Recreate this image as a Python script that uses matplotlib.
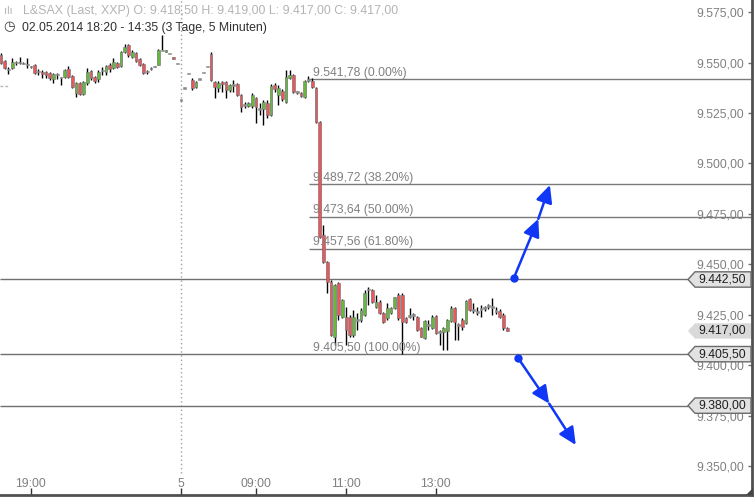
import matplotlib

matplotlib.use("Agg")
import matplotlib.pyplot as plt  # noqa: E402
import matplotlib.transforms as mtransforms  # noqa: E402
from matplotlib.patches import Polygon  # noqa: E402

plt.rcParams["font.family"] = ["Liberation Sans", "DejaVu Sans"]

# --- Daten: 5-Minuten-Kerzen, Index 0 = 02.05.2014 18:20 ---
opens = [
    9553.5, 9551.0, 9546.5, 9547.5, 9550.0, 9550.0, 9549.5, 9549.0, 9548.0, 9549.0,
    9545.5, 9545.5, 9545.5, 9545.0, 9542.0, 9544.0, 9542.5, 9543.0, 9547.0, 9543.5,
    9535.0, 9540.0, 9534.5, 9540.0, 9546.0, 9543.0, 9542.0, 9546.0, 9545.5, 9549.0,
    9547.5, 9550.0, 9548.5, 9555.0, 9558.5, 9553.0, 9554.5, 9552.0, 9549.5, 9545.5,
    9547.0, 9548.0, 9549.0, 9556.0, 9555.0, 9554.5, 9553.0, 9549.5, 9531.5, 9537.5,
    9544.5, 9541.5, 9538.0, 9542.0, 9545.0, 9548.0, 9554.0, 9540.5, 9537.5, 9540.0,
    9540.5, 9536.5, 9539.0, 9539.5, 9534.0, 9529.0, 9528.5, 9528.5, 9532.5, 9527.0,
    9527.0, 9530.0, 9524.0, 9539.0, 9534.0, 9536.0, 9530.5, 9542.5, 9544.0, 9535.5,
    9535.0, 9533.0, 9541.5, 9541.0, 9537.5, 9520.5, 9464.5, 9451.0, 9441.5, 9414.0,
    9441.0, 9424.0, 9424.0, 9424.0, 9415.0, 9422.5, 9422.5, 9425.0, 9437.5, 9437.5,
    9429.0, 9431.5, 9426.0, 9423.5, 9426.0, 9428.5, 9435.0, 9435.0, 9423.5, 9424.5,
    9425.0, 9424.0, 9418.5, 9413.5, 9420.0, 9418.5, 9424.5, 9416.5, 9416.5, 9417.0,
    9422.0, 9428.5, 9420.0, 9422.5, 9421.0, 9433.0, 9427.5, 9426.5, 9428.0, 9428.5,
    9429.5, 9429.0, 9427.0, 9427.0, 9425.0, 9418.5,
]
highs = [
    9554.5, 9551.5, 9548.0, 9552.5, 9551.0, 9553.0, 9550.5, 9552.5, 9548.5, 9549.5,
    9547.0, 9546.5, 9546.0, 9545.5, 9545.0, 9545.0, 9543.0, 9547.0, 9548.5, 9544.0,
    9540.5, 9540.5, 9541.0, 9547.5, 9546.5, 9543.5, 9546.5, 9548.0, 9549.0, 9550.0,
    9552.5, 9550.5, 9555.5, 9559.0, 9559.0, 9556.0, 9555.0, 9552.5, 9550.0, 9546.5,
    9548.0, 9548.5, 9556.5, 9563.5, 9556.0, 9554.5, 9553.0, 9549.5, 9531.5, 9537.5,
    9544.5, 9542.5, 9541.0, 9542.0, 9545.0, 9548.0, 9555.0, 9541.0, 9541.0, 9541.0,
    9541.0, 9539.5, 9541.5, 9540.0, 9534.5, 9530.5, 9530.5, 9535.0, 9533.0, 9530.0,
    9531.5, 9531.5, 9539.5, 9540.0, 9539.0, 9537.0, 9546.5, 9546.5, 9544.5, 9536.0,
    9535.5, 9541.5, 9543.5, 9542.5, 9538.0, 9521.0, 9469.5, 9451.5, 9442.0, 9440.5,
    9441.5, 9433.0, 9429.0, 9425.0, 9427.5, 9426.0, 9428.5, 9437.5, 9439.0, 9438.0,
    9435.0, 9432.5, 9426.5, 9431.0, 9429.0, 9434.0, 9436.0, 9436.0, 9424.0, 9428.5,
    9426.0, 9424.5, 9419.0, 9422.5, 9422.5, 9425.0, 9425.0, 9417.5, 9419.0, 9423.0,
    9429.5, 9429.0, 9421.0, 9423.5, 9432.5, 9433.5, 9431.0, 9429.0, 9430.0, 9429.5,
    9430.5, 9433.5, 9429.0, 9428.0, 9426.0, 9419.0,
]
lows = [
    9549.5, 9547.0, 9544.5, 9547.0, 9549.0, 9549.5, 9549.5, 9547.5, 9547.5, 9544.5,
    9544.0, 9542.5, 9542.5, 9541.5, 9540.0, 9542.0, 9539.0, 9542.5, 9542.5, 9537.5,
    9533.0, 9534.0, 9534.0, 9539.0, 9541.5, 9540.0, 9540.5, 9544.0, 9544.0, 9545.5,
    9547.0, 9547.5, 9548.0, 9554.5, 9553.0, 9552.5, 9550.5, 9548.5, 9544.5, 9544.5,
    9546.5, 9548.0, 9549.0, 9556.0, 9555.0, 9554.5, 9552.0, 9549.5, 9531.5, 9537.5,
    9544.5, 9536.5, 9537.5, 9542.0, 9545.0, 9548.0, 9541.0, 9532.5, 9535.5, 9535.5,
    9532.5, 9535.5, 9535.5, 9533.5, 9525.5, 9527.5, 9528.0, 9527.5, 9520.0, 9524.0,
    9519.0, 9522.5, 9523.5, 9535.5, 9529.0, 9531.0, 9530.0, 9542.0, 9535.0, 9534.5,
    9533.0, 9532.5, 9540.5, 9537.5, 9520.0, 9463.0, 9450.5, 9436.0, 9414.5, 9410.0,
    9422.5, 9423.5, 9410.0, 9414.0, 9414.0, 9417.5, 9421.5, 9424.5, 9430.0, 9431.0,
    9428.5, 9425.5, 9421.0, 9422.5, 9425.5, 9428.0, 9422.5, 9405.5, 9421.0, 9423.5,
    9422.5, 9417.0, 9414.0, 9413.0, 9417.5, 9418.0, 9415.5, 9410.0, 9407.5, 9407.5,
    9421.5, 9412.5, 9412.5, 9417.5, 9420.5, 9427.0, 9426.0, 9425.0, 9424.0, 9427.0,
    9428.0, 9425.0, 9425.5, 9423.5, 9417.5, 9417.0,
]
closes = [
    9550.0, 9547.5, 9546.5, 9550.5, 9550.0, 9550.0, 9549.5, 9549.0, 9548.0, 9545.0,
    9545.5, 9544.5, 9544.0, 9542.5, 9544.5, 9544.0, 9542.5, 9546.5, 9543.0, 9538.0,
    9540.0, 9534.5, 9540.5, 9545.5, 9542.5, 9541.0, 9545.5, 9546.0, 9548.5, 9547.0,
    9550.5, 9548.0, 9555.0, 9557.5, 9553.5, 9555.0, 9551.0, 9549.0, 9545.0, 9545.5,
    9547.0, 9548.0, 9556.0, 9556.0, 9556.0, 9554.5, 9552.0, 9549.5, 9531.5, 9537.5,
    9544.5, 9537.5, 9540.5, 9542.0, 9545.0, 9548.0, 9541.5, 9538.0, 9540.0, 9539.5,
    9536.5, 9539.0, 9539.0, 9534.0, 9528.0, 9529.0, 9530.0, 9534.0, 9528.0, 9527.0,
    9530.5, 9524.0, 9538.5, 9537.0, 9537.5, 9532.0, 9543.0, 9544.0, 9535.5, 9535.5,
    9533.5, 9541.0, 9541.5, 9538.0, 9520.5, 9463.5, 9451.0, 9441.5, 9415.0, 9440.0,
    9425.0, 9432.5, 9417.5, 9415.0, 9424.0, 9422.5, 9427.5, 9436.0, 9437.5, 9431.5,
    9431.5, 9426.0, 9421.5, 9428.5, 9428.5, 9434.0, 9423.5, 9421.5, 9421.5, 9424.5,
    9425.0, 9417.5, 9414.0, 9422.0, 9420.0, 9424.0, 9416.0, 9416.5, 9418.5, 9422.5,
    9428.5, 9421.5, 9420.0, 9419.0, 9432.0, 9427.5, 9427.5, 9426.5, 9428.0, 9428.5,
    9429.5, 9429.0, 9427.0, 9424.0, 9418.5, 9417.0,
]

# Achsen
xtick_pos = [8, 48, 68, 92, 116]
xtick_labels = ["19:00", "5", "09:00", "11:00", "13:00"]
ytick_values = [9350, 9375, 9400, 9425, 9450, 9475, 9500, 9525, 9550, 9575]
day_break = 48
prev_close = 9538.5

# Fibonacci (Hoch -> Tief)
fib_high = 9541.78
fib_low = 9405.50
fib_ratios = [0.0, 0.382, 0.5, 0.618]
fib_start = 82.2

# horizontale Linien mit Preisschild, aktueller Kurs
levels = [9442.50, 9405.50, 9380.00]
last_price = 9417.00

# Pfeile (Index, Kurs): Start, Zwischenspitze, Ende
arrow_up = [(136.8, 9443.3), (143.3, 9472.5), (146.4, 9489.3)]
arrow_down = [(137.9, 9403.6), (146.2, 9381.0), (153.3, 9360.5)]

_GRUEN = "#66b83c"
_ROT = "#e8585a"
_GRAU = "#8a8a8a"
_BLAU = "#0f37f5"
_TXT = "#808080"


def fmt_de(v: float) -> str:
    s = f"{v:,.2f}"
    return s.replace(",", "X").replace(".", ",").replace("X", ".")


fig = plt.figure(figsize=(7.54, 4.97), dpi=100)
ax = fig.add_axes((0, 2 / 497, 752 / 754, 495 / 497))
ax.set_xlim(-0.24, 200.29)
ax.set_ylim(9335.7, 9581.0)

# Kerzen
idx = list(range(len(opens)))
ax.vlines(idx, lows, highs, color="black", lw=1, zorder=2)
for i, o, c in zip(idx, opens, closes):
    if c > o:
        col, edge = _GRUEN, "#6f6f6f"
    elif c < o:
        col, edge = _ROT, "#6f6f6f"
    else:
        col, edge = _GRAU, _GRAU
    h = max(abs(c - o), 0.8)
    bottom = min(o, c) if c != o else o - 0.4
    ax.bar(i, h, bottom=bottom, width=0.74, color=col, edgecolor=edge,
           linewidth=0.4, zorder=3)

# Tagestrenner und Vortagesmarke
ax.axvline(day_break, ymin=0.045, color="#a0a0a0", ls=(0, (1, 2)), lw=1, zorder=1)
ax.hlines(prev_close, -0.24, 2.2, colors="#b8b8b8", linestyles=(0, (2, 1.5)), lw=1)

# Fibonacci-Linien
for r in fib_ratios:
    lvl = fib_low + (1 - r) * (fib_high - fib_low)
    ax.hlines(lvl, fib_start, 200.29, colors="#7a7a7a", lw=1, zorder=1)
    ax.text(fib_start + 1.0, lvl + 0.3, f"{fmt_de(lvl)} ({r * 100:.2f}%)",
            ha="left", va="bottom", fontsize=8.7, color=_TXT, zorder=4)
ax.text(fib_start + 1.0, fib_low + 0.3, f"{fmt_de(fib_low)} (100.00%)",
        ha="left", va="bottom", fontsize=8.7, color=_TXT, zorder=4)

# horizontale Linien
ax.hlines(levels, -0.24, 183.2, colors="#707070", lw=1, zorder=1)

# Preisschilder rechts
trans = mtransforms.blended_transform_factory(ax.transAxes, ax.transData)


def preisschild(preis, face, edge):
    h = 3.8
    x_tip, x_left, x_right = 688 / 752, 695 / 752, 751 / 752
    pts = [(x_tip, preis), (x_left, preis + h), (x_right, preis + h),
           (x_right, preis - h), (x_left, preis - h)]
    ax.add_patch(Polygon(pts, closed=True, transform=trans, facecolor=face,
                         edgecolor=edge, lw=1, zorder=5))
    ax.text(698 / 752, preis, fmt_de(preis), transform=trans, ha="left",
            va="center", fontsize=8.7, color="#202020", zorder=6)


for lvl in levels:
    preisschild(lvl, "#e2e2e2", "#6a6a6a")
preisschild(last_price, "#d9d9d9", "none")

# Pfeile
for pts in (arrow_up, arrow_down):
    ax.plot(*pts[0], "o", ms=5, color=_BLAU, zorder=7)
    for a, b in zip(pts[:-1], pts[1:]):
        ax.annotate("", xy=b, xytext=a, zorder=7,
                    arrowprops=dict(arrowstyle="-|>,head_length=1.05,head_width=0.5",
                                    color=_BLAU, lw=1.8, shrinkA=0, shrinkB=0))

# Achsen-Styling
for s in ("left", "top"):
    ax.spines[s].set_visible(False)
for s in ("right", "bottom"):
    ax.spines[s].set_color("#505050")
    ax.spines[s].set_linewidth(2)

ax.yaxis.tick_right()
ax.set_yticks(ytick_values)
ax.set_yticklabels([fmt_de(v) for v in ytick_values])
ax.tick_params(axis="y", direction="in", length=3, width=1, color="#707070",
               pad=-5.5, labelsize=8.8, labelcolor=_TXT)
for lbl in ax.get_yticklabels():
    lbl.set_horizontalalignment("right")

ax.set_xticks(xtick_pos)
ax.set_xticklabels(xtick_labels)
ax.tick_params(axis="x", direction="in", length=5, width=1, color="#303030",
               pad=-12.2, labelsize=8.8, labelcolor=_TXT)

# Kopfzeile
fig.text(4 / 754, 1 - 11 / 497, "ılı", fontsize=8, color="#b8b8b8", va="center")
fig.text(23 / 754, 1 - 11 / 497,
         "L&SAX (Last, XXP) O: 9.418,50 H: 9.419,00 L: 9.417,00 C: 9.417,00",
         fontsize=8.9, color="#b4b4b4", va="center")
fig.text(3 / 754, 1 - 27 / 497, "\u25F7", fontsize=9.5, color="#333333",
         va="center", family="DejaVu Sans")
fig.text(22 / 754, 1 - 27.5 / 497, "02.05.2014 18:20 - 14:35 (3 Tage, 5 Minuten)",
         fontsize=8.8, color="#303030", va="center")

# Griff unten rechts
fig.patches.append(Polygon([(753 / 754, 2 / 497), (753 / 754, 9 / 497), (746 / 754, 2 / 497)],
                           closed=True, transform=fig.transFigure,
                           facecolor="#444444", edgecolor="none"))

fig.savefig("out.png", dpi=100)
plt.close(fig)
